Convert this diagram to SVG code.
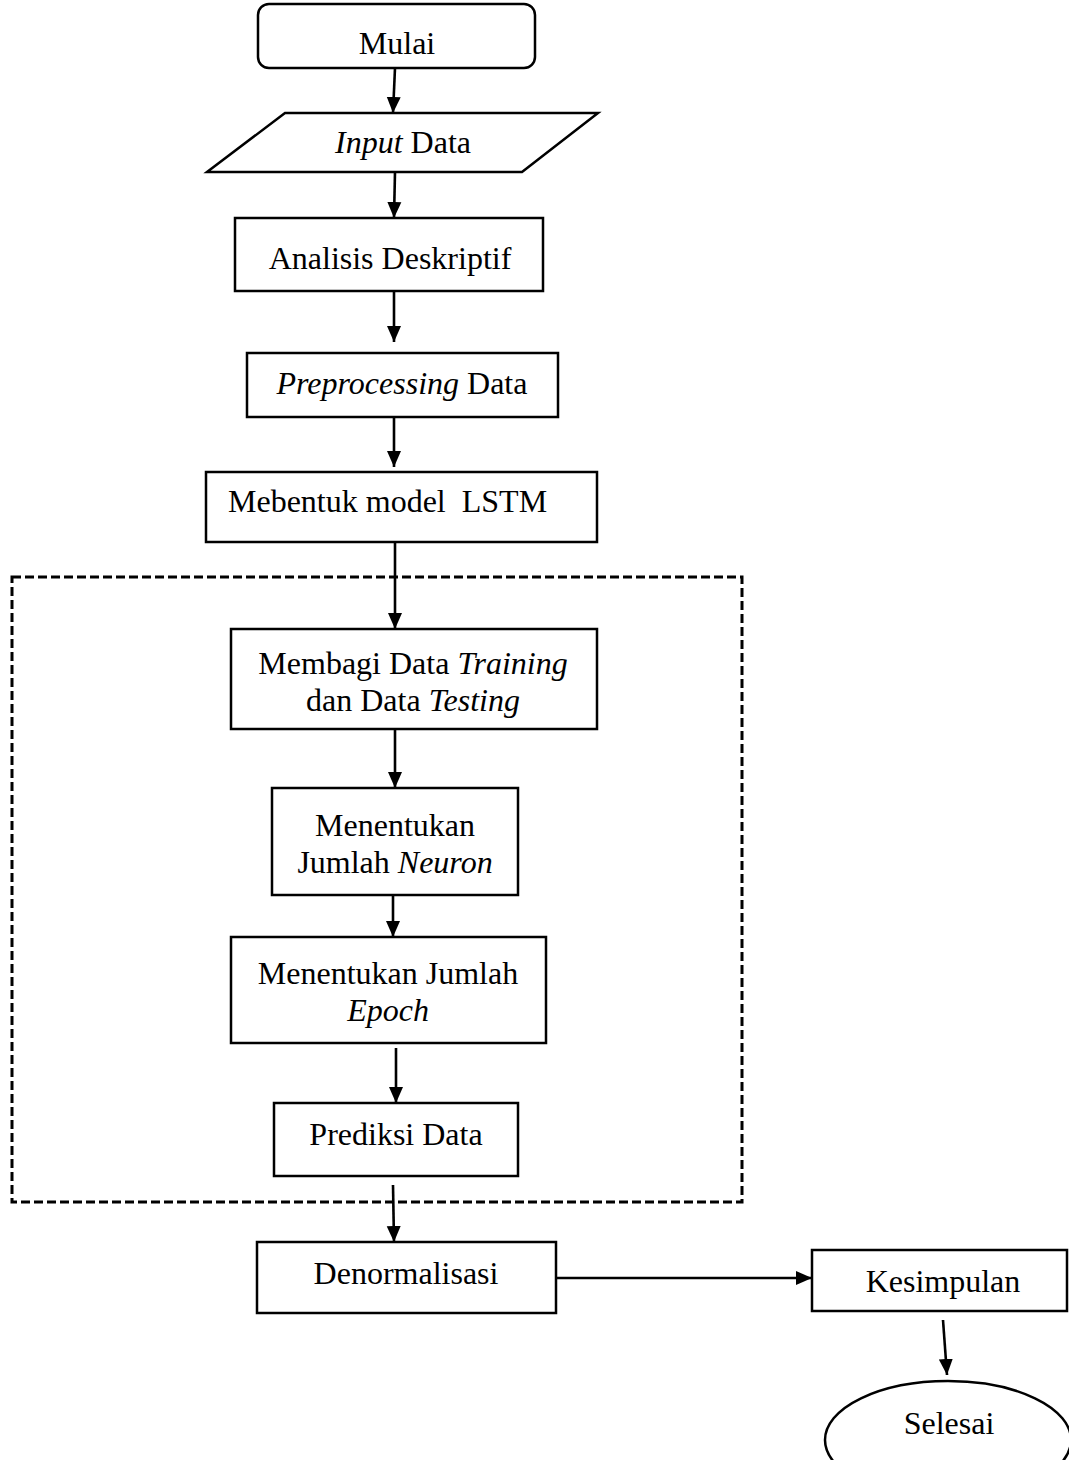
<svg xmlns="http://www.w3.org/2000/svg" width="1069" height="1460" viewBox="0 0 1069 1460">
<style>
.box{fill:#fff;stroke:#000;stroke-width:2.5}
.t{font-family:"Liberation Serif","Times New Roman",serif;font-size:32px;fill:#000;text-anchor:middle}
.i{font-style:italic}
.c{fill:none;stroke:#000;stroke-width:2.6}
.dash{fill:none;stroke:#000;stroke-width:3;stroke-dasharray:9 4}
</style>
<defs>
<marker id="ah" markerUnits="userSpaceOnUse" markerWidth="18" markerHeight="18" viewBox="0 0 18 18" refX="16" refY="9" orient="auto">
<path d="M0,2 L16,9 L0,16 Z" fill="#000"/>
</marker>
</defs>
<rect class="dash" x="12" y="577" width="730" height="625"/>
<g id="connectors">
<line class="c" x1="395" y1="68" x2="393" y2="113" marker-end="url(#ah)"/>
<line class="c" x1="395" y1="172" x2="394" y2="218" marker-end="url(#ah)"/>
<line class="c" x1="394" y1="291" x2="394" y2="342" marker-end="url(#ah)"/>
<line class="c" x1="394" y1="417" x2="394" y2="467" marker-end="url(#ah)"/>
<line class="c" x1="395" y1="542" x2="395" y2="629" marker-end="url(#ah)"/>
<line class="c" x1="395" y1="729" x2="395" y2="788" marker-end="url(#ah)"/>
<line class="c" x1="393" y1="895" x2="393" y2="937" marker-end="url(#ah)"/>
<line class="c" x1="396" y1="1048" x2="396" y2="1103" marker-end="url(#ah)"/>
<line class="c" x1="393" y1="1185" x2="394" y2="1242" marker-end="url(#ah)"/>
<line class="c" x1="556" y1="1278" x2="812" y2="1278" marker-end="url(#ah)"/>
<line class="c" x1="943" y1="1320" x2="947" y2="1375" marker-end="url(#ah)"/>
</g>
<g id="mulai">
<rect class="box" x="258" y="4" width="277" height="64" rx="11"/>
<text class="t" x="397" y="54">Mulai</text>
</g>
<g id="input">
<polygon class="box" points="285,113 598,113 522,172 207,172"/>
<text class="t" x="403" y="153"><tspan class="i">Input</tspan> Data</text>
</g>
<g id="analisis">
<rect class="box" x="235" y="218" width="308" height="73"/>
<text class="t" x="390" y="269">Analisis Deskriptif</text>
</g>
<g id="preprocessing">
<rect class="box" x="247" y="353" width="311" height="64"/>
<text class="t" x="402" y="394"><tspan class="i">Preprocessing</tspan> Data</text>
</g>
<g id="lstm">
<rect class="box" x="206" y="472" width="391" height="70"/>
<text class="t" x="228" y="512" style="text-anchor:start;white-space:pre" xml:space="preserve">Mebentuk model  LSTM</text>
</g>
<g id="membagi">
<rect class="box" x="231" y="629" width="366" height="100"/>
<text class="t" x="413" y="674">Membagi Data <tspan class="i">Training</tspan></text>
<text class="t" x="413" y="711">dan Data <tspan class="i">Testing</tspan></text>
</g>
<g id="neuron">
<rect class="box" x="272" y="788" width="246" height="107"/>
<text class="t" x="395" y="836">Menentukan</text>
<text class="t" x="395" y="873">Jumlah <tspan class="i">Neuron</tspan></text>
</g>
<g id="epoch">
<rect class="box" x="231" y="937" width="315" height="106"/>
<text class="t" x="388" y="984">Menentukan Jumlah</text>
<text class="t" x="388" y="1021"><tspan class="i">Epoch</tspan></text>
</g>
<g id="prediksi">
<rect class="box" x="274" y="1103" width="244" height="73"/>
<text class="t" x="396" y="1145">Prediksi Data</text>
</g>
<g id="denormalisasi">
<rect class="box" x="257" y="1242" width="299" height="71"/>
<text class="t" x="406" y="1284">Denormalisasi</text>
</g>
<g id="kesimpulan">
<rect class="box" x="812" y="1250" width="255" height="61"/>
<text class="t" x="943" y="1292">Kesimpulan</text>
</g>
<g id="selesai">
<ellipse class="box" cx="948" cy="1440" rx="123" ry="59"/>
<text class="t" x="949" y="1434">Selesai</text>
</g>
</svg>
